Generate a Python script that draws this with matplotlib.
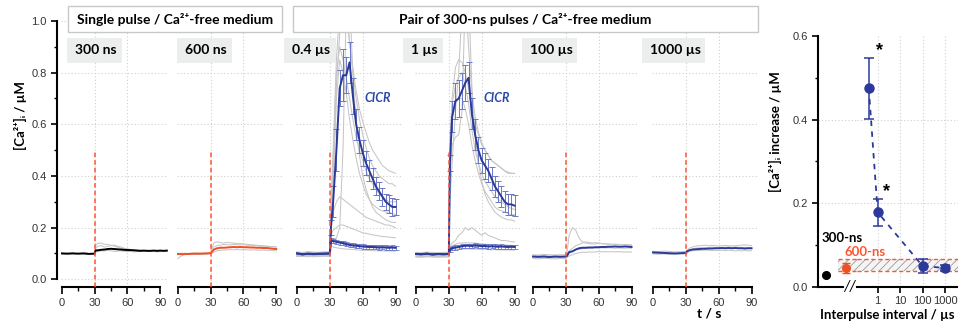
import numpy as np
import matplotlib
matplotlib.use("Agg")
import matplotlib.pyplot as plt
from matplotlib.patches import Rectangle
from matplotlib.ticker import MultipleLocator, LogLocator, NullFormatter

plt.rcParams['font.family'] = ['Liberation Sans', 'DejaVu Sans']
plt.rcParams['hatch.linewidth'] = 0.6

BOLD = ['Lato', 'DejaVu Sans']

# time points (s)
t = np.array([0, 5, 10, 15, 20, 25, 30, 31, 33, 36, 39, 42, 45, 48, 51, 54,
              57, 60, 63, 66, 69, 72, 75, 78, 81, 84, 87, 90])
t_long = np.append(t, [93, 96])

# ---- single 300 ns pulse
mean_300 = [0.100, 0.099, 0.100, 0.099, 0.100, 0.098, 0.099,
            0.112, 0.112, 0.114, 0.115, 0.117, 0.118, 0.117, 0.116, 0.115, 0.114, 0.113,
            0.113, 0.112, 0.111, 0.110, 0.111, 0.110, 0.110, 0.111, 0.110, 0.111, 0.110, 0.111]
grey_300 = [
    [0.101, 0.100, 0.102, 0.100, 0.101, 0.100, 0.101,
     0.130, 0.140, 0.140, 0.135, 0.135, 0.130, 0.132, 0.128, 0.125, 0.120, 0.118,
     0.115, 0.115, 0.112, 0.112, 0.110, 0.110, 0.110, 0.110, 0.110, 0.108, 0.109, 0.110],
    [0.099, 0.098, 0.100, 0.099, 0.098, 0.099, 0.100,
     0.120, 0.128, 0.130, 0.125, 0.127, 0.132, 0.128, 0.124, 0.120, 0.118, 0.116,
     0.114, 0.113, 0.112, 0.112, 0.111, 0.110, 0.110, 0.110, 0.109, 0.110, 0.109, 0.108],
    [0.100, 0.101, 0.099, 0.100, 0.101, 0.100, 0.099,
     0.105, 0.108, 0.110, 0.110, 0.112, 0.110, 0.108, 0.109, 0.110, 0.108, 0.107,
     0.108, 0.106, 0.107, 0.108, 0.107, 0.108, 0.107, 0.108, 0.106, 0.107, 0.108, 0.107],
]

# ---- single 600 ns pulse
mean_600 = [0.098, 0.097, 0.098, 0.099, 0.099, 0.100, 0.101,
            0.105, 0.115, 0.120, 0.122, 0.122, 0.123, 0.124, 0.125, 0.124, 0.125, 0.124,
            0.124, 0.123, 0.123, 0.122, 0.122, 0.121, 0.121, 0.120, 0.118, 0.117]
grey_600 = [
    [0.080, 0.095, 0.098, 0.097, 0.098, 0.099, 0.100,
     0.120, 0.140, 0.145, 0.142, 0.140, 0.143, 0.141, 0.140, 0.139, 0.138, 0.137,
     0.135, 0.134, 0.133, 0.132, 0.130, 0.130, 0.128, 0.127, 0.126, 0.125],
    [0.100, 0.101, 0.100, 0.102, 0.101, 0.100, 0.101,
     0.110, 0.125, 0.130, 0.132, 0.135, 0.134, 0.133, 0.135, 0.134, 0.133, 0.134,
     0.132, 0.131, 0.130, 0.130, 0.129, 0.128, 0.128, 0.127, 0.126, 0.125],
    [0.097, 0.096, 0.098, 0.097, 0.096, 0.097, 0.098,
     0.100, 0.105, 0.110, 0.112, 0.113, 0.114, 0.115, 0.114, 0.115, 0.114, 0.115,
     0.114, 0.113, 0.114, 0.113, 0.112, 0.113, 0.112, 0.112, 0.111, 0.110],
]

# ---- pair, 0.4 us interval
cicr_04 = [0.100, 0.096, 0.099, 0.097, 0.098, 0.099, 0.100,
           0.20, 0.30, 0.50, 0.74, 0.79, 0.79, 0.84, 0.71, 0.60, 0.54, 0.49,
           0.45, 0.42, 0.39, 0.36, 0.34, 0.32, 0.30, 0.29, 0.28, 0.28]
cicr_04_err = [0, 0, 0, 0, 0, 0, 0,
               0.03, 0.06, 0.08, 0.07, 0.10, 0.07, 0.08, 0.07, 0.06, 0.05, 0.05,
               0.045, 0.04, 0.04, 0.035, 0.035, 0.035, 0.03, 0.035, 0.035, 0.03]
low_04 = [0.100, 0.097, 0.099, 0.098, 0.099, 0.099, 0.100,
          0.150, 0.148, 0.145, 0.142, 0.140, 0.136, 0.133, 0.131, 0.130, 0.128, 0.127,
          0.126, 0.125, 0.125, 0.124, 0.123, 0.124, 0.123, 0.122, 0.123, 0.122]
grey_04 = [
    [0.105, 0.102, 0.106, 0.103, 0.104, 0.105, 0.105,
     0.30, 0.50, 0.85, 1.05, 1.10, 1.02, 0.92, 0.82, 0.73, 0.66, 0.61,
     0.57, 0.53, 0.50, 0.48, 0.46, 0.44, 0.43, 0.42, 0.415, 0.41],
    [0.095, 0.093, 0.096, 0.094, 0.095, 0.094, 0.095,
     0.25, 0.40, 0.75, 0.95, 1.10, 1.05, 0.92, 0.80, 0.70, 0.62, 0.56,
     0.51, 0.47, 0.44, 0.42, 0.40, 0.39, 0.38, 0.37, 0.37, 0.36],
    [0.090, 0.088, 0.090, 0.087, 0.089, 0.090, 0.090,
     0.28, 0.45, 0.80, 0.90, 0.85, 0.78, 0.70, 0.62, 0.55, 0.50, 0.46,
     0.42, 0.39, 0.37, 0.35, 0.33, 0.32, 0.31, 0.30, 0.30, 0.30],
    [0.100, 0.098, 0.100, 0.099, 0.097, 0.100, 0.100,
     0.22, 0.35, 0.70, 0.85, 0.80, 0.72, 0.62, 0.54, 0.47, 0.41, 0.37,
     0.33, 0.31, 0.29, 0.28, 0.27, 0.265, 0.26, 0.26, 0.255, 0.25],
    [0.095, 0.093, 0.095, 0.094, 0.096, 0.095, 0.095,
     0.14, 0.15, 0.16, 0.20, 0.50, 1.05, 1.10, 0.80, 0.60, 0.48, 0.40,
     0.35, 0.31, 0.28, 0.26, 0.25, 0.24, 0.23, 0.225, 0.22, 0.22],
    [0.090, 0.092, 0.090, 0.091, 0.090, 0.092, 0.090,
     0.20, 0.26, 0.30, 0.32, 0.31, 0.30, 0.29, 0.28, 0.27, 0.26, 0.25,
     0.24, 0.235, 0.23, 0.225, 0.22, 0.215, 0.21, 0.21, 0.205, 0.20],
    [0.088, 0.090, 0.087, 0.089, 0.088, 0.090, 0.089,
     0.17, 0.19, 0.20, 0.21, 0.21, 0.205, 0.20, 0.195, 0.19, 0.185, 0.18,
     0.178, 0.175, 0.172, 0.17, 0.168, 0.165, 0.165, 0.163, 0.162, 0.16],
    [0.105, 0.104, 0.106, 0.105, 0.104, 0.106, 0.105,
     0.15, 0.15, 0.148, 0.145, 0.143, 0.14, 0.138, 0.136, 0.135, 0.133, 0.132,
     0.13, 0.13, 0.13, 0.128, 0.128, 0.127, 0.127, 0.126, 0.126, 0.125],
    [0.092, 0.091, 0.093, 0.092, 0.090, 0.092, 0.092,
     0.13, 0.125, 0.122, 0.12, 0.118, 0.117, 0.116, 0.115, 0.114, 0.113, 0.112,
     0.112, 0.111, 0.111, 0.11, 0.11, 0.11, 0.109, 0.11, 0.109, 0.109],
]

# ---- pair, 1 us interval
cicr_1 = [0.098, 0.097, 0.099, 0.096, 0.098, 0.097, 0.098,
          0.45, 0.63, 0.69, 0.70, 0.73, 0.76, 0.78, 0.64, 0.56, 0.50, 0.46,
          0.44, 0.42, 0.39, 0.36, 0.34, 0.32, 0.30, 0.29, 0.29, 0.285]
cicr_1_err = [0, 0, 0, 0, 0, 0, 0,
              0.03, 0.06, 0.07, 0.07, 0.07, 0.07, 0.06, 0.06, 0.06, 0.05, 0.05,
              0.05, 0.045, 0.045, 0.04, 0.04, 0.04, 0.04, 0.04, 0.04, 0.04]
low_1 = [0.098, 0.097, 0.099, 0.096, 0.098, 0.097, 0.098,
         0.115, 0.12, 0.123, 0.125, 0.128, 0.13, 0.13, 0.129, 0.131, 0.13, 0.128,
         0.129, 0.127, 0.128, 0.127, 0.126, 0.127, 0.126, 0.125, 0.126, 0.125]
grey_1 = [
    [0.095, 0.094, 0.096, 0.095, 0.093, 0.095, 0.095,
     0.40, 0.52, 0.55, 0.56, 0.65, 1.10, 1.10, 0.75, 0.55, 0.45, 0.38,
     0.33, 0.30, 0.28, 0.26, 0.25, 0.24, 0.235, 0.23, 0.23, 0.225],
    [0.100, 0.099, 0.101, 0.100, 0.099, 0.100, 0.100,
     0.30, 0.45, 0.65, 0.80, 1.05, 1.10, 0.90, 0.72, 0.63, 0.57, 0.53,
     0.50, 0.48, 0.46, 0.45, 0.44, 0.43, 0.42, 0.415, 0.41, 0.41],
    [0.090, 0.089, 0.091, 0.090, 0.088, 0.090, 0.090,
     0.50, 0.70, 0.82, 0.85, 0.84, 0.80, 0.74, 0.66, 0.60, 0.56, 0.52,
     0.50, 0.48, 0.46, 0.45, 0.44, 0.43, 0.42, 0.41, 0.41, 0.41],
    [0.097, 0.096, 0.098, 0.097, 0.096, 0.097, 0.097,
     0.55, 0.68, 0.75, 0.78, 0.80, 0.75, 0.68, 0.58, 0.50, 0.45, 0.41,
     0.38, 0.36, 0.34, 0.32, 0.31, 0.30, 0.29, 0.28, 0.275, 0.27],
    [0.093, 0.092, 0.094, 0.093, 0.092, 0.093, 0.093,
     0.50, 0.62, 0.68, 0.70, 0.70, 0.66, 0.60, 0.52, 0.46, 0.41, 0.37,
     0.34, 0.32, 0.30, 0.28, 0.27, 0.265, 0.26, 0.255, 0.25, 0.25],
    [0.088, 0.087, 0.089, 0.088, 0.087, 0.088, 0.088,
     0.13, 0.14, 0.15, 0.17, 0.18, 0.20, 0.19, 0.20, 0.19, 0.18, 0.17,
     0.18, 0.17, 0.165, 0.16, 0.155, 0.15, 0.15, 0.148, 0.145, 0.145],
    [0.104, 0.103, 0.105, 0.104, 0.103, 0.104, 0.104,
     0.12, 0.13, 0.135, 0.14, 0.14, 0.142, 0.14, 0.141, 0.14, 0.138, 0.137,
     0.136, 0.135, 0.134, 0.134, 0.133, 0.133, 0.132, 0.132, 0.131, 0.13],
    [0.086, 0.085, 0.087, 0.086, 0.085, 0.086, 0.086,
     0.11, 0.112, 0.115, 0.116, 0.118, 0.117, 0.118, 0.116, 0.117, 0.116, 0.115,
     0.116, 0.115, 0.114, 0.115, 0.114, 0.114, 0.113, 0.114, 0.113, 0.113],
]

# ---- pair, 100 us interval
mean_100 = [0.088, 0.087, 0.088, 0.086, 0.088, 0.087, 0.088,
            0.090, 0.105, 0.108, 0.115, 0.120, 0.122, 0.122, 0.123, 0.123, 0.124, 0.124,
            0.125, 0.125, 0.126, 0.126, 0.127, 0.126, 0.126, 0.127, 0.126, 0.125]
grey_100 = [
    [0.090, 0.089, 0.091, 0.090, 0.089, 0.090, 0.090,
     0.100, 0.170, 0.200, 0.190, 0.160, 0.145, 0.140, 0.138, 0.137, 0.136, 0.140,
     0.138, 0.137, 0.136, 0.135, 0.135, 0.134, 0.134, 0.133, 0.133, 0.132],
    [0.095, 0.094, 0.096, 0.095, 0.094, 0.095, 0.095,
     0.100, 0.110, 0.120, 0.130, 0.135, 0.140, 0.145, 0.143, 0.140, 0.142, 0.140,
     0.138, 0.137, 0.136, 0.135, 0.136, 0.135, 0.134, 0.135, 0.134, 0.133],
    [0.080, 0.079, 0.081, 0.080, 0.079, 0.080, 0.080,
     0.085, 0.090, 0.095, 0.100, 0.102, 0.105, 0.104, 0.106, 0.105, 0.106, 0.107,
     0.106, 0.107, 0.106, 0.107, 0.106, 0.107, 0.106, 0.105, 0.106, 0.105],
    [0.085, 0.084, 0.086, 0.085, 0.084, 0.085, 0.085,
     0.090, 0.100, 0.110, 0.115, 0.117, 0.118, 0.120, 0.121, 0.120, 0.122, 0.121,
     0.122, 0.121, 0.122, 0.121, 0.120, 0.121, 0.120, 0.120, 0.121, 0.120],
]

# ---- pair, 1000 us interval
mean_1000 = [0.104, 0.103, 0.102, 0.101, 0.100, 0.101, 0.102,
             0.108, 0.112, 0.115, 0.116, 0.117, 0.118, 0.118, 0.119, 0.119, 0.120, 0.120,
             0.121, 0.120, 0.121, 0.120, 0.121, 0.120, 0.120, 0.119, 0.120, 0.120]
grey_1000 = [
    [0.108, 0.107, 0.109, 0.108, 0.106, 0.107, 0.108,
     0.110, 0.120, 0.125, 0.128, 0.130, 0.130, 0.132, 0.130, 0.131, 0.130, 0.129,
     0.130, 0.131, 0.130, 0.129, 0.130, 0.131, 0.132, 0.133, 0.132, 0.130],
    [0.100, 0.099, 0.100, 0.099, 0.098, 0.099, 0.100,
     0.105, 0.108, 0.110, 0.112, 0.111, 0.112, 0.113, 0.112, 0.111, 0.112, 0.111,
     0.112, 0.111, 0.112, 0.111, 0.110, 0.111, 0.110, 0.111, 0.110, 0.111],
    [0.098, 0.097, 0.098, 0.096, 0.097, 0.098, 0.098,
     0.100, 0.110, 0.118, 0.120, 0.122, 0.121, 0.122, 0.123, 0.124, 0.123, 0.124,
     0.123, 0.124, 0.125, 0.124, 0.125, 0.124, 0.123, 0.124, 0.123, 0.122],
]

panel_labels = ['300 ns', '600 ns', '0.4 µs', '1 µs', '100 µs', '1000 µs']

# ---- summary panel
single_labels = ['300-ns', '600-ns']
single_slot = [0.19, 0.72]          # positions on the short axis segment
single_val = [0.028, 0.045]
single_err = [0.0, 0.012]
interval_us = [0.4, 1, 100, 1000]
increase = [0.475, 0.178, 0.049, 0.045]
increase_err = [0.073, 0.033, 0.017, 0.007]
band_lo, band_hi = 0.038, 0.066

BLUE = '#2b3a9a'
EBLUE = '#6a78c8'
RED = '#ff5533'
ORANGE = '#f04e23'
GREY = '#c6c6c6'

W, H = 958, 326
fig = plt.figure(figsize=(9.58, 3.26), dpi=100)


def px_box(x0, y0, x1, y1):
    return [x0 / W, 1 - y1 / H, (x1 - x0) / W, (y1 - y0) / H]


SC = 1.095  # px per second
starts = [61.7, 177.7, 297, 416, 533, 653]
label_boxes = [(67, 122), (177, 232), (284, 336), (403, 443), (522, 577), (642, 705)]

panels = [
    (t_long, grey_300, mean_300, 'black', None, None, None),
    (t, grey_600, mean_600, ORANGE, None, None, None),
    (t, grey_04, cicr_04, BLUE, cicr_04_err, low_04, 'CICR'),
    (t, grey_1, cicr_1, BLUE, cicr_1_err, low_1, 'CICR'),
    (t, grey_100, mean_100, BLUE, None, None, None),
    (t, grey_1000, mean_1000, BLUE, None, None, None),
]

for i, (tt, greys, mean, col, err, low, note) in enumerate(panels):
    x0 = starts[i] - SC
    ax = fig.add_axes(px_box(x0, 21, x0 + 98 * SC, 287))
    ax.patch.set_visible(False)
    ax.set_xlim(-1, 97)
    ax.set_ylim(-0.03, 1.0)
    for g in greys:
        ax.plot(tt, g, color=GREY, lw=0.75, zorder=2)
    if low is not None:
        post = t > 30
        ax.errorbar(t[post], np.array(low)[post], yerr=0.008, fmt='none',
                    ecolor=EBLUE, elinewidth=0.6, capsize=1.8, capthick=0.6, zorder=3)
        ax.plot(t, low, color=BLUE, lw=1.5, zorder=4)
    if err is not None:
        post = t > 30
        ax.errorbar(t[post], np.array(mean)[post], yerr=np.array(err)[post], fmt='none',
                    ecolor=EBLUE, elinewidth=0.7, capsize=2.2, capthick=0.7, zorder=3)
    ax.plot(tt, mean, color=col, lw=1.4, zorder=4)
    ax.plot([30, 30], [-0.03, 0.5], color=RED, lw=1.1, ls=(0, (3, 2)), zorder=5,
            clip_on=False)
    if note:
        ax.text(74, 0.70, note, color='#2948a8', fontsize=9, fontweight='bold',
                fontstyle='italic', family=BOLD, ha='center', va='center')

    ax.set_xticks([0, 30, 60, 90])
    ax.xaxis.set_minor_locator(MultipleLocator(15))
    ax.set_yticks(np.arange(0, 1.01, 0.2))
    ax.grid(True, ls=(0, (1, 2)), color='#cfcfcf', lw=0.8, zorder=0)
    gx = ax.get_xgridlines()
    gx[0].set_visible(False)
    gx[-1].set_visible(False)
    gy = ax.get_ygridlines()
    gy[0].set_visible(False)
    gy[-1].set_visible(False)
    ax.set_axisbelow(True)

    for s in ['top', 'right']:
        ax.spines[s].set_visible(False)
    ax.spines['bottom'].set_bounds(0, 90)
    ax.spines['bottom'].set_linewidth(1.5)
    ax.tick_params(axis='x', which='major', length=5, width=1.2, labelsize=8,
                   labelcolor='#333333', pad=3)
    ax.tick_params(axis='x', which='minor', length=3, width=1.0)
    if i == 0:
        ax.spines['left'].set_position(('outward', 3.3 * 72 / 100))
        ax.spines['left'].set_bounds(0, 1)
        ax.spines['left'].set_linewidth(1.5)
        ax.yaxis.set_minor_locator(MultipleLocator(0.1))
        ax.set_yticklabels(['0.0', '0.2', '0.4', '0.6', '0.8', '1.0'])
        ax.tick_params(axis='y', which='major', length=4, width=1.2, labelsize=8,
                       labelcolor='#333333')
        ax.tick_params(axis='y', which='minor', length=2.5, width=1.0)
    else:
        ax.spines['left'].set_visible(False)
        ax.tick_params(axis='y', which='both', length=0, labelleft=False)

    # grey label box
    bx0, bx1 = label_boxes[i]
    fig.patches.append(Rectangle((bx0 / W, 1 - 63 / H), (bx1 - bx0) / W, 25 / H,
                                 transform=fig.transFigure, fc='#eceeee', ec='none',
                                 zorder=6))
    fig.text((bx0 + 8) / W, 1 - 50.5 / H, panel_labels[i], fontsize=10,
             fontweight='bold', family=BOLD, va='center', ha='left', zorder=7)

# header boxes
for (bx0, bx1, txt) in [(68, 282, 'Single pulse / Ca²⁺-free medium'),
                        (293, 758, 'Pair of 300-ns pulses / Ca²⁺-free medium')]:
    fig.patches.append(Rectangle((bx0 / W, 1 - 32 / H), (bx1 - bx0) / W, 26 / H,
                                 transform=fig.transFigure, fc='white', ec='#c8c8c8',
                                 lw=1.0, zorder=6))
    fig.text((bx0 + bx1) / 2 / W, 1 - 19.5 / H, txt, fontsize=10, fontweight='bold',
             family=BOLD, ha='center', va='center', zorder=7)

fig.text(20 / W, 1 - 116 / H, '[Ca²⁺]ᵢ / µM', rotation=90, fontsize=9.5,
         fontweight='bold', family=BOLD, ha='center', va='center')
fig.text(709 / W, 1 - 314 / H, 't / s', fontsize=10, fontweight='bold', family=BOLD,
         ha='center', va='center')

# ---- summary panel: short linear segment + log axis
axl = fig.add_axes(px_box(818.3, 36, 857, 286.7))
axr = fig.add_axes(px_box(857, 36, 958, 286.7))
for a in (axl, axr):
    a.patch.set_visible(False)
    a.set_ylim(0, 0.6)
    a.set_yticks([0, 0.2, 0.4, 0.6])
    a.grid(True, axis='y', ls=(0, (1, 2)), color='#cfcfcf', lw=0.8)
    a.set_axisbelow(True)
    for s in ['top', 'right']:
        a.spines[s].set_visible(False)
    a.spines['bottom'].set_linewidth(1.5)
    gy = a.get_ygridlines()
    gy[0].set_visible(False)
    gy[-1].set_visible(False)

axl.set_xlim(0, 1)
axl.spines['bottom'].set_bounds(0, 0.64)
axl.spines['left'].set_linewidth(1.5)
axl.set_xticks([])
axl.yaxis.set_minor_locator(MultipleLocator(0.1))
axl.set_yticklabels(['0.0', '0.2', '0.4', '0.6'])
axl.tick_params(axis='y', which='major', length=4, width=1.2, labelsize=8,
                labelcolor='#333333')
axl.tick_params(axis='y', which='minor', length=2.5, width=1.0)

LOGMIN, LOGMAX = 0.12, 3700
axr.set_xscale('log')
axr.set_xlim(LOGMIN, LOGMAX)
axr.spines['left'].set_visible(False)
axr.tick_params(axis='y', which='both', length=0, labelleft=False)
axr.set_xticks([1, 10, 100, 1000])
axr.set_xticklabels(['1', '10', '100', '1000'])
axr.xaxis.set_minor_locator(LogLocator(base=10, subs=np.arange(2, 10)))
axr.xaxis.set_minor_formatter(NullFormatter())
axr.tick_params(axis='x', which='major', length=4, width=1.2, labelsize=8,
                labelcolor='#333333', pad=3)
axr.tick_params(axis='x', which='minor', length=2.5, width=0.9)
axr.grid(True, axis='x', which='major', ls=(0, (1, 2)), color='#cfcfcf', lw=0.8)

# hatched band of single-pulse level
axl.fill_between([0.52, 1], band_lo, band_hi, hatch='////', fc='#f4f4f4', ec='#9a9a9a',
                 lw=0, zorder=1)
axr.fill_between([LOGMIN, LOGMAX], band_lo, band_hi, hatch='////', fc='#f4f4f4',
                 ec='#9a9a9a', lw=0, zorder=1)
for lev in (band_lo, band_hi):
    axl.plot([0.52, 1], [lev, lev], color=RED, lw=1.0, ls=(0, (3, 2)), zorder=2)
    axr.plot([LOGMIN, LOGMAX], [lev, lev], color=RED, lw=1.0, ls=(0, (3, 2)), zorder=2)

axl.errorbar(single_slot[0], single_val[0], yerr=single_err[0], fmt='o', color='black',
             ms=5.5, zorder=5, clip_on=False)
axl.errorbar(single_slot[1], single_val[1], yerr=single_err[1], fmt='o', color=ORANGE,
             ms=5.5, capsize=3, elinewidth=1, zorder=5)
axl.text(0.08, 0.117, single_labels[0], fontsize=9.5, fontweight='bold', family=BOLD,
         color='black', va='center', ha='left', clip_on=False, zorder=6)
axl.text(0.68, 0.082, single_labels[1], fontsize=9.5, fontweight='bold', family=BOLD,
         color=RED, va='center', ha='left', clip_on=False, zorder=6)
axl.text(0.80, 0.0, '//', fontsize=11, family=BOLD, fontstyle='italic', ha='center',
         va='center', clip_on=False)

axr.plot(interval_us, increase, color=BLUE, lw=1.3, ls=(0, (3, 3)), zorder=4)
axr.errorbar(interval_us, increase, yerr=increase_err, fmt='o', color=BLUE, ecolor=BLUE,
             ms=6.5, capsize=3.5, elinewidth=1.1, capthick=1.1, zorder=5, clip_on=False)
axr.text(1.15, 0.565, '*', fontsize=13, fontweight='bold', ha='center', va='center')
axr.text(2.4, 0.228, '*', fontsize=13, fontweight='bold', ha='center', va='center')

fig.text(775 / W, 1 - 131.7 / H, '[Ca²⁺]ᵢ increase / µM', rotation=90, fontsize=9.5,
         fontweight='bold', family=BOLD, ha='center', va='center')
fig.text(887 / W, 1 - 315 / H, 'Interpulse interval / µs', fontsize=9.5,
         fontweight='bold', family=BOLD, ha='center', va='center')

fig.savefig('out.png', dpi=100)
